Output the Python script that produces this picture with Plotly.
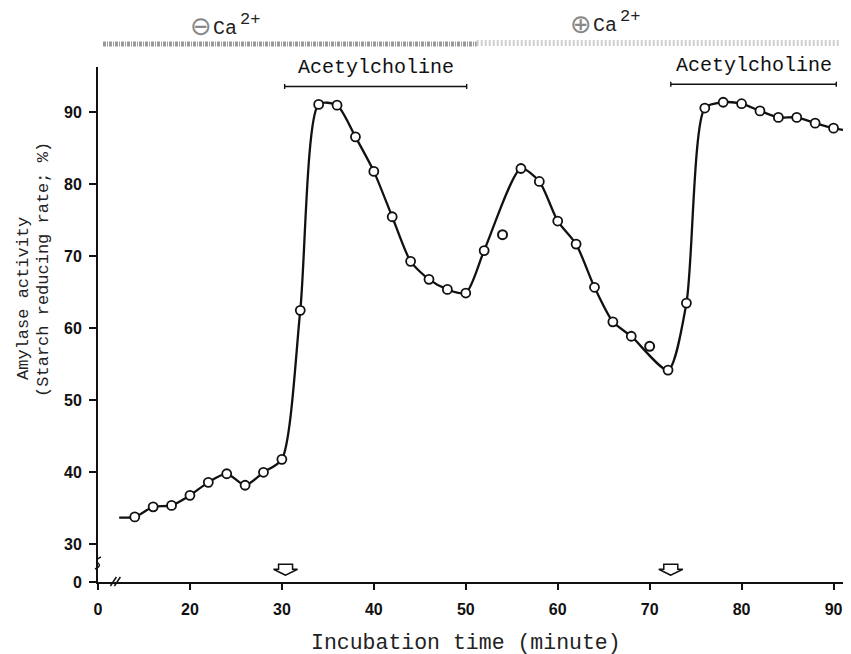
import plotly.graph_objects as go

# ---------------- data ----------------
time_min = [14, 16, 18, 20, 22, 24, 26, 28, 30, 32, 34, 36, 38, 40, 42, 44, 46, 48, 50,
            52, 56, 58, 60, 62, 64, 66, 68, 72, 74, 76, 78, 80, 82, 84, 86, 88, 90]
activity = [33.8, 35.2, 35.4, 36.8, 38.6, 39.8, 38.2, 40.0, 41.8, 62.5, 91.1, 91.0, 86.6,
            81.8, 75.5, 69.3, 66.8, 65.4, 64.9, 70.8, 82.2, 80.4, 74.9, 71.7, 65.7, 60.9,
            58.9, 54.2, 63.5, 90.6, 91.4, 91.2, 90.2, 89.3, 89.3, 88.5, 87.8]
# points off the fitted curve
outlier_time = [54, 70]
outlier_activity = [73.0, 57.5]
# where the hand-drawn curve starts and ends
curve_start = [12.3, 33.7]
curve_end = [91.3, 87.5]

# axis (broken axes: the first tick stands for 0)
x_range = [10, 91.9]
y_range = [24.76, 96.3]
x_tickvals = [10, 20, 30, 40, 50, 60, 70, 80, 90]
x_ticktext = ["0", "20", "30", "40", "50", "60", "70", "80", "90"]
y_tickvals = [24.76, 30, 40, 50, 60, 70, 80, 90]
y_ticktext = ["0", "30", "40", "50", "60", "70", "80", "90"]

# treatment periods
ach_start = [30.3, 72.3]
ach_end = [50.1, 90.3]
ach_bar_y = [93.6, 93.9]
ach_label = ["Acetylcholine", "Acetylcholine"]
arrow_time = [30.4, 72.3]
arrow_level = 25.7
ca_label_x = [21.2, 62.5]
ca_label_sign = ["⊖", "⊕"]
ca_label_y = [1.0796, 1.0835]

# ----------------------------------------------------------------
curve_x = [curve_start[0]] + time_min + [curve_end[0]]
curve_y = [curve_start[1]] + activity + [curve_end[1]]

fig = go.Figure()
fig.add_trace(go.Scatter(x=curve_x, y=curve_y, mode="lines",
                         line=dict(shape="spline", smoothing=0.7, color="#111", width=2.3),
                         hoverinfo="skip"))
fig.add_trace(go.Scatter(x=time_min, y=activity, mode="markers",
                         marker=dict(symbol="circle", size=9, color="white",
                                     line=dict(color="#111", width=1.8))))
fig.add_trace(go.Scatter(x=outlier_time, y=outlier_activity, mode="markers",
                         marker=dict(symbol="circle", size=9, color="white",
                                     line=dict(color="#111", width=2))))

shapes = []
annotations = []
mono = "Liberation Mono"

# Acetylcholine bars + labels
for x0, x1, yb, lab in zip(ach_start, ach_end, ach_bar_y, ach_label):
    shapes.append(dict(type="line", xref="x", yref="y", x0=x0, x1=x1, y0=yb, y1=yb,
                       line=dict(color="#111", width=1.6)))
    for xe in (x0, x1):
        shapes.append(dict(type="line", xref="x", yref="y", x0=xe, x1=xe,
                           y0=yb - 0.35, y1=yb + 0.35, line=dict(color="#111", width=1.4)))
    annotations.append(dict(x=(x0 + x1) / 2, y=yb, xref="x", yref="y", yanchor="bottom",
                            xanchor="center", yshift=5, text=lab, showarrow=False,
                            font=dict(family=mono, size=20, color="#111")))

# down arrows above the x axis
for xa in arrow_time:
    shapes.append(dict(type="path", xref="x", yref="y", xsizemode="pixel", ysizemode="pixel",
                       xanchor=xa, yanchor=arrow_level,
                       path="M 0,0 L -12,6 L -7,6 L -7,11 L 7,11 L 7,6 L 12,6 Z",
                       fillcolor="white", line=dict(color="#111", width=1.5)))

# axis break marks
shapes.append(dict(type="path", xref="x", yref="paper", xsizemode="pixel", ysizemode="pixel",
                   xanchor=12.0, yanchor=0,
                   path="M -6,-4 L 0,5 M -2,-4 L 4,5", line=dict(color="#111", width=1.5)))
shapes.append(dict(type="path", xref="paper", yref="y", xsizemode="pixel", ysizemode="pixel",
                   xanchor=0, yanchor=27.4,
                   path="M -3,-6 Q 4,-3 0,0 Q -4,3 3,6", line=dict(color="#111", width=1.5)))

# Ca2+ band along the top
shapes.append(dict(type="line", xref="paper", yref="paper", x0=0.0066, x1=0.503,
                   y0=1.0447, y1=1.0447,
                   line=dict(color="#9a9a9a", width=5, dash="3px,1px,1px,1px")))
shapes.append(dict(type="line", xref="paper", yref="paper", x0=0.503, x1=0.9854,
                   y0=1.0466, y1=1.0466,
                   line=dict(color="#cfcfcf", width=6, dash="2px,2px")))

for xc, sg, yc in zip(ca_label_x, ca_label_sign, ca_label_y):
    annotations.append(dict(x=xc, y=yc, xref="x", yref="paper", showarrow=False,
                            xanchor="center", yanchor="middle", text=sg,
                            font=dict(family="DejaVu Sans", size=26, color="#888")))
    annotations.append(dict(x=xc, y=yc, xref="x", yref="paper", showarrow=False,
                            xanchor="center", yanchor="middle", xshift=24, yshift=-2,
                            text="Ca", font=dict(family=mono, size=20, color="#222")))
    annotations.append(dict(x=xc, y=yc, xref="x", yref="paper", showarrow=False,
                            xanchor="center", yanchor="middle", xshift=49, yshift=7,
                            text="2+", font=dict(family=mono, size=17, color="#222")))

# axis titles
annotations.append(dict(x=-0.0983, y=0.5515, xref="paper", yref="paper", textangle=-90,
                        xanchor="center", yanchor="middle",
                        text="Amylase activity", showarrow=False,
                        font=dict(family=mono, size=17, color="#222")))
annotations.append(dict(x=-0.0717, y=0.606, xref="paper", yref="paper", textangle=-90,
                        xanchor="center", yanchor="middle",
                        text="(Starch reducing rate; %)", showarrow=False,
                        font=dict(family=mono, size=17, color="#222")))
annotations.append(dict(x=0.4887, y=-0.1185, xref="paper", yref="paper",
                        xanchor="center", yanchor="middle",
                        text="Incubation time (minute)", showarrow=False,
                        font=dict(family=mono, size=21.5, color="#222")))

tickfont = dict(family="Liberation Sans", size=16, color="#111", weight="bold")
fig.update_layout(
    width=843, height=646,
    margin=dict(l=90, r=0, t=59, b=72),
    paper_bgcolor="white", plot_bgcolor="white",
    showlegend=False,
    shapes=shapes, annotations=annotations,
    xaxis=dict(range=x_range, tickvals=x_tickvals, ticktext=x_ticktext,
               showgrid=False, zeroline=False, showline=True, linecolor="#111", linewidth=2,
               ticks="outside", ticklen=6, tickwidth=1.5, tickcolor="#111",
               tickfont=tickfont, ticklabelstandoff=6),
    yaxis=dict(range=y_range, tickvals=y_tickvals, ticktext=y_ticktext,
               showgrid=False, zeroline=False, showline=True, linecolor="#111", linewidth=2,
               ticks="outside", ticklen=7, tickwidth=1.5, tickcolor="#111",
               tickfont=tickfont, ticklabelstandoff=4),
)

fig.write_html("out.html")
